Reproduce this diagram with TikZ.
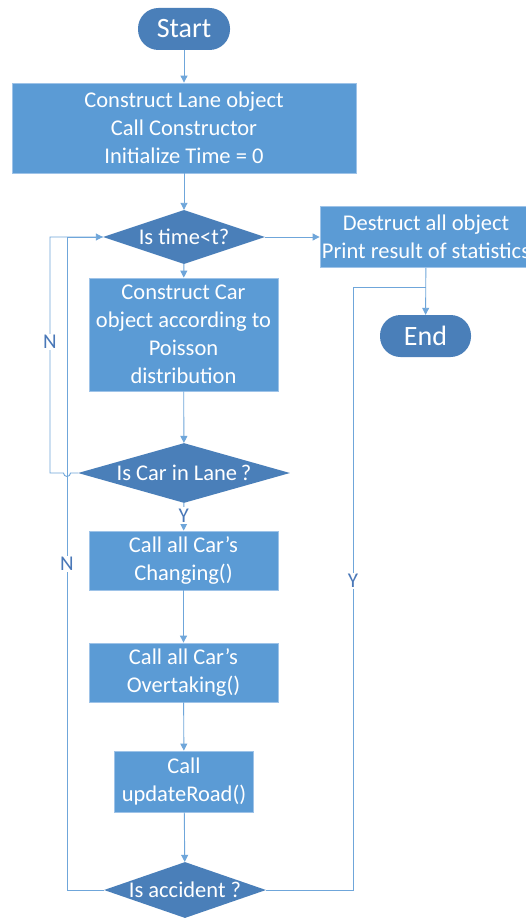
\documentclass[tikz,border=0pt]{standalone}
\usepackage{fontspec}
\setmainfont{Carlito}
\usetikzlibrary{shapes.geometric,arrows.meta}
\definecolor{boxblue}{HTML}{5B9BD5}
\definecolor{darkblue}{HTML}{4A7FB9}
\definecolor{edgeblue}{HTML}{9EC3E8}
\definecolor{lineblue}{HTML}{6FA6DA}
\definecolor{labelblue}{HTML}{4A78B8}
\begin{document}
\begin{tikzpicture}[x=1pt,y=-1pt,
  txt/.style={text=white,font=\fontsize{22.5}{28}\selectfont,align=center,inner sep=0pt},
  procbox/.style={txt,draw=edgeblue,line width=0.8pt,fill=boxblue},
  pill/.style={draw=none,fill=darkblue,rounded corners=20.5pt,text=white,
    font=\fontsize{28}{32}\selectfont,inner sep=0pt},
  decision/.style={diamond,aspect=3.05,fill=darkblue,draw=none,inner sep=0pt,
    text=white,font=\fontsize{22.5}{28}\selectfont},
  conn/.style={draw=lineblue,line width=0.9pt},
  arr/.style={conn,-{Triangle[width=7pt,length=7pt]}},
  lbl/.style={fill=white,text=labelblue,font=\fontsize{21}{24}\selectfont,inner sep=1.5pt}]
\useasboundingbox (0,0) rectangle (526,920);
\fill[white] (0,0) rectangle (526,920);

% terminals
\node[pill,minimum width=92pt,minimum height=42pt] (start) at (184,29) {Start};
\node[pill,minimum width=91pt,minimum height=42pt] (end) at (425.5,336) {End};

% process boxes
\node[procbox,minimum width=344pt,minimum height=90pt] (lane) at (184,128)
  {Construct Lane object\\Call Constructor\\Initialize Time = 0};
\node[procbox,minimum width=189pt,minimum height=113pt] (car) at (183.5,334.5)
  {Construct Car\\object according to\\Poisson\\distribution};
\node[procbox,minimum width=189pt,minimum height=59pt] (chg) at (183.5,560.5)
  {Call all Car’s\\Changing()};
\node[procbox,minimum width=189pt,minimum height=59pt] (ovt) at (183.5,672.5)
  {Call all Car’s\\Overtaking()};
\node[procbox,minimum width=139pt,minimum height=61pt] (upd) at (184,781.5)
  {Call\\updateRoad()};
\node[procbox,minimum width=212pt,minimum height=61pt] (dest) at (426,237)
  {Destruct all object\\Print result of statistics};

% decisions
\node[decision,minimum width=162pt,minimum height=54pt] (qtime) at (184,237) {Is time<t?};
\node[decision,minimum width=212pt,minimum height=54pt] (qcar) at (184,473) {Is Car in Lane\,?};
\node[decision,minimum width=162pt,minimum height=56pt] (qacc) at (185,890) {Is accident ?};

% corner points of the loops
\coordinate (nA) at (50,473);
\coordinate (nB) at (50,237);
\coordinate (mA) at (67,890);
\coordinate (mB) at (67,237);
\coordinate (yA) at (353,890);
\coordinate (yB) at (353,287);
\coordinate (yC) at (426,287);

% main flow
\draw[arr] (start) -- (lane);
\draw[arr] (lane) -- (qtime);
\draw[arr] (qtime) -- (car);
\draw[arr] (car) -- (qcar);
\draw[arr] (qcar) -- node[lbl,pos=0.45] {Y} (chg);
\draw[arr] (chg) -- (ovt);
\draw[arr] (ovt) -- (upd);
\draw[arr] (upd) -- (qacc);
\draw[arr] (qtime) -- (dest);
\draw[arr] (dest) -- (end);

% "N" loop from the lane test, hopping over the outer line
\draw[conn] (qcar.west) -- (70.5,473) arc[start angle=0,end angle=180,radius=3.5]
  -- (nA) -- (nB) -- (qtime.west);
\node[lbl] (n1) at (50,342) {N};

% "N" loop from the accident test
\draw[arr] (qacc.west) -- (mA) -- (mB) -- (qtime.west);
\node[lbl] (n2) at (67,564) {N};

% "Y" path from the accident test to the end
\draw[conn] (qacc.east) -- (yA) -- (yB) -- (yC);
\node[lbl] (y2) at (353,581) {Y};
\end{tikzpicture}
\end{document}
